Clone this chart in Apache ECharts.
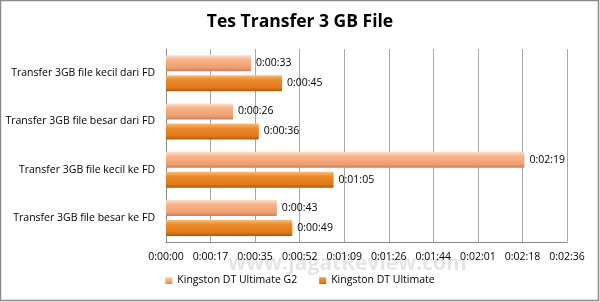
<!DOCTYPE html>
<html><head><meta charset="utf-8">
<script src="https://cdn.jsdelivr.net/npm/echarts@6/dist/echarts.min.js"></script>
<style>html,body{margin:0;padding:0;background:#fff}#c{width:600px;height:302px}</style>
</head><body><div id="c"></div>
<script>
var categories = ['Transfer 3GB file besar ke FD','Transfer 3GB file kecil ke FD','Transfer 3GB file besar dari FD','Transfer 3GB file kecil dari FD'];
var g2Values = [43, 139, 26, 33];
var ultimateValues = [49, 65, 36, 45];
var tickLabels = ['0:00:00','0:00:17','0:00:35','0:00:52','0:01:09','0:01:26','0:01:44','0:02:01','0:02:18','0:02:36'];
var seriesNames = ['Kingston DT Ultimate G2','Kingston DT Ultimate'];
var tickStep = 17.28;

function fmt(s){
  s = Math.round(s);
  var h = Math.floor(s/3600), m = Math.floor((s%3600)/60), sec = s%60;
  return h + ':' + (m<10?'0':'') + m + ':' + (sec<10?'0':'') + sec;
}
var FONT = 'Open Sans';
var lightGrad = new echarts.graphic.LinearGradient(0,0,0,1,[
  {offset:0,color:'#fde0c8'},{offset:0.3,color:'#f7b48a'},{offset:0.8,color:'#ee9d70'},{offset:1,color:'#c8805a'}]);
var darkGrad = new echarts.graphic.LinearGradient(0,0,0,1,[
  {offset:0,color:'#f9c07a'},{offset:0.3,color:'#ec8a2c'},{offset:0.8,color:'#e07818'},{offset:1,color:'#a85a14'}]);

var chart = echarts.init(document.getElementById('c'), null, {renderer:'canvas'});
chart.setOption({
  backgroundColor:'#fff',
  animation:false,
  title:{text:'Tes Transfer 3 GB File', left:'center', top:8,
    textStyle:{fontFamily:FONT, fontWeight:'bold', fontSize:17.5, color:'#000'}},
  graphic:[
    {type:'rect', shape:{x:0.5,y:0.5,width:598,height:300}, style:{fill:null, stroke:'#8a8a8a', lineWidth:1.5}, z:-1},
    {type:'text', left:228, top:254, z:-1, style:{text:'www.JagatReview.com', fill:'rgba(170,170,170,0.3)', font:'bold 21px "Open Sans"'}}
  ],
  legend:{bottom:11, left:'center', itemWidth:7, itemHeight:7, itemGap:22,
    data:seriesNames, icon:'rect',
    textStyle:{fontFamily:FONT, fontSize:10.5, color:'#000'}},
  grid:{left:166, right:33, top:49, bottom:60},
  xAxis:{type:'value', min:0, max:tickStep*9, interval:tickStep,
    axisLine:{show:true, lineStyle:{color:'#888'}},
    axisTick:{show:false},
    splitLine:{show:true, lineStyle:{color:'#a8a8a8'}},
    axisLabel:{fontFamily:FONT, fontSize:10.5, color:'#000', margin:10,
      formatter:function(v){return tickLabels[Math.round(v/tickStep)];}}},
  yAxis:{type:'category', data:categories,
    axisLine:{show:true, lineStyle:{color:'#888'}},
    axisTick:{show:false},
    axisLabel:{fontFamily:FONT, fontSize:10.5, color:'#000', margin:11}},
  series:[
    {name:seriesNames[0], type:'bar', data:g2Values, barWidth:16, barGap:'25%', barCategoryGap:'25%',
      itemStyle:{color:lightGrad, borderRadius:1},
      label:{show:true, position:'right', distance:5, fontFamily:FONT, fontSize:10.5, color:'#000', formatter:function(p){return fmt(p.value);}}},
    {name:seriesNames[1], type:'bar', data:ultimateValues, barWidth:16, barGap:'25%',
      itemStyle:{color:darkGrad, borderRadius:1},
      label:{show:true, position:'right', distance:5, fontFamily:FONT, fontSize:10.5, color:'#000', formatter:function(p){return fmt(p.value);}}}
  ],
  color:['#f4a87c','#e07818']
});
</script></body></html>
